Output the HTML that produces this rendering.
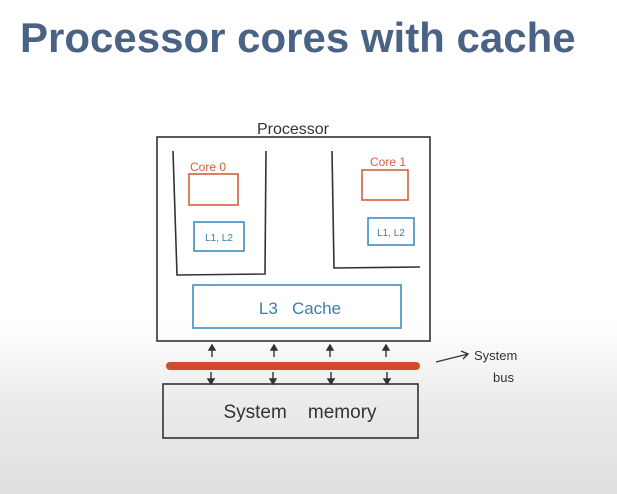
<!DOCTYPE html>
<html><head><style>
html,body{margin:0;padding:0}
body{width:617px;height:494px;overflow:hidden;background:linear-gradient(#fff 0,#fff 320px,#ececec 400px,#dedede 494px);font-family:"Liberation Sans",sans-serif;position:relative}
h1{position:absolute;left:20px;top:14px;margin:0;font-size:42px;font-weight:bold;color:#4a6385;letter-spacing:0px;white-space:nowrap}
svg{position:absolute;left:0;top:0}
</style></head><body>
<h1>Processor cores with cache</h1>
<svg width="617" height="494" viewBox="0 0 617 494" font-family="'Liberation Sans',sans-serif">
<g fill="none" stroke="#333" stroke-width="1.6">
<rect x="157" y="137" width="273" height="204"/>
<polyline points="173,151 177,275 265,274 266,151"/>
<polyline points="332,151 334,268 420,267"/>
<rect x="163" y="384" width="255" height="54"/>
</g>
<text x="293" y="134" font-size="16" text-anchor="middle" fill="#333">Processor</text>
<g fill="none" stroke="#d0603f" stroke-width="1.6">
<rect x="189" y="174" width="49" height="31"/>
<rect x="362" y="170" width="46" height="30"/>
</g>
<text x="190" y="171" font-size="12" fill="#d0603f">Core 0</text>
<text x="370" y="166" font-size="12" fill="#d0603f">Core 1</text>
<g fill="none" stroke="#3b8ec0" stroke-width="1.6">
<rect x="194" y="222" width="50" height="29"/>
<rect x="368" y="218" width="46" height="27"/>
<rect x="193" y="285" width="208" height="43"/>
</g>
<text x="219" y="241" font-size="10" text-anchor="middle" fill="#3b7ea8">L1, L2</text>
<text x="391" y="236" font-size="10" text-anchor="middle" fill="#3b7ea8">L1, L2</text>
<text x="300" y="314" font-size="17" text-anchor="middle" fill="#3b7ea8">L3&#160;&#160;&#160;Cache</text>
<line x1="170" y1="366" x2="416" y2="366" stroke="#d24a2a" stroke-width="8" stroke-linecap="round"/>
<g stroke="#333" stroke-width="1.4" fill="#333">
<line x1="212" y1="346" x2="212" y2="357"/><path d="M209,350 L212,345 L215,350Z"/>
<line x1="274" y1="346" x2="274" y2="357"/><path d="M271,350 L274,345 L277,350Z"/>
<line x1="330" y1="346" x2="330" y2="357"/><path d="M327,350 L330,345 L333,350Z"/>
<line x1="386" y1="346" x2="386" y2="357"/><path d="M383,350 L386,345 L389,350Z"/>
<line x1="211" y1="372" x2="211" y2="383"/><path d="M208,379 L211,384 L214,379Z"/>
<line x1="273" y1="372" x2="273" y2="383"/><path d="M270,379 L273,384 L276,379Z"/>
<line x1="331" y1="372" x2="331" y2="383"/><path d="M328,379 L331,384 L334,379Z"/>
<line x1="387" y1="372" x2="387" y2="383"/><path d="M384,379 L387,384 L390,379Z"/>
</g>
<path d="M436,362 L468,354 M461,351 L468,354 L463,359" fill="none" stroke="#333" stroke-width="1.4"/>
<text x="474" y="360" font-size="13" fill="#333">System</text>
<text x="493" y="382" font-size="13" fill="#333">bus</text>
<text x="300" y="418" font-size="19" text-anchor="middle" fill="#333">System&#160;&#160;&#160;&#160;memory</text>
</svg>
</body></html>
